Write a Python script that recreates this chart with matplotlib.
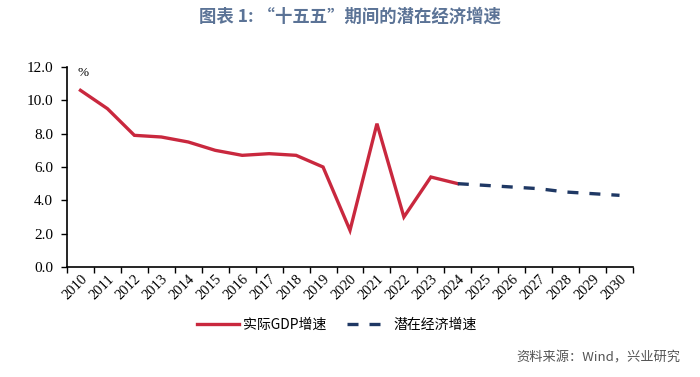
import matplotlib
matplotlib.use("Agg")
import matplotlib.pyplot as plt
import numpy as np

years = [str(y) for y in range(2010, 2031)]
actual_years = years[:15]
actual_gdp = [10.6, 9.5, 7.9, 7.8, 7.5, 7.0, 6.7, 6.8, 6.7, 6.0, 2.2, 8.6, 3.0, 5.4, 5.0]
potential_years = years[14:]
potential_gdp = [5.0, 4.9, 4.8, 4.7, 4.5, 4.4, 4.3]
yticks = [0, 2, 4, 6, 8, 10, 12]

plt.rcParams['font.family'] = ['Noto Sans CJK SC', 'DejaVu Sans']

fig = plt.figure(figsize=(7.0, 3.77), dpi=100)
ax = fig.add_axes([67/700, 1-267/377, (633-67)/700, 200/377])

idx = {y: i for i, y in enumerate(years)}
xa = [idx[y] + 0.5 for y in actual_years]
xp = [idx[y] + 0.5 for y in potential_years]
ax.plot(xa, actual_gdp, color='#c9283e', lw=2.4, solid_joinstyle='miter', label='实际GDP增速')
ax.plot(xp, potential_gdp, color='#1f3864', lw=2.4, dashes=(3.3, 3.3), label='潜在经济增速')

ax.set_xlim(0, len(years))
ax.set_ylim(0, 12)
ax.set_yticks(yticks)
ax.set_yticklabels([f"{v:.1f}" for v in yticks], family='Liberation Serif', fontsize=11)
ax.set_xticks(np.arange(len(years) + 1))
ax.set_xticklabels([])
ax.set_xticks(np.arange(len(years)) + 0.5, minor=True)
ax.set_xticklabels(years, minor=True, rotation=45, ha='right', rotation_mode='anchor',
                   family='Liberation Serif', fontsize=10.5)
ax.tick_params(axis='x', which='minor', length=0, pad=4)
ax.tick_params(axis='x', which='major', length=4, width=1, direction='out')
ax.tick_params(axis='y', length=4, width=1, direction='out', pad=6)
for s in ['top', 'right']:
    ax.spines[s].set_visible(False)
for s in ['left', 'bottom']:
    ax.spines[s].set_linewidth(1.2)
    ax.spines[s].set_color('black')

ax.text(0.4, 11.3, '%', fontsize=9.5, family='Liberation Serif', ha='left', va='bottom')

fig.text(0.5, 1-17/377, '图表 1: “十五五”期间的潜在经济增速', ha='center', va='center',
         fontsize=12.5, fontweight='bold', color='#5b7396')

leg = fig.legend(loc='center', bbox_to_anchor=(337/700, 1-325/377), ncol=2, frameon=False,
                 fontsize=10, handlelength=3, columnspacing=1.5, handletextpad=0.3)

fig.text(680/700, 1-358/377, '资料来源：Wind，兴业研究', ha='right', va='center',
         fontsize=9.5, color='#555555')

fig.savefig('out.png', dpi=100)
